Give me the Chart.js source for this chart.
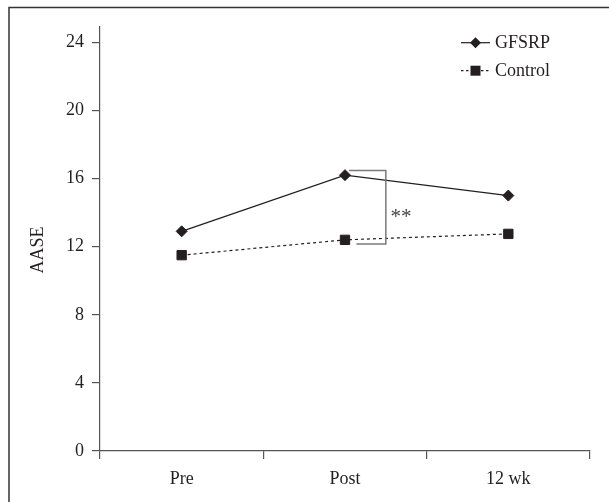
<!DOCTYPE html>
<html><head><meta charset="utf-8">
<script src="https://cdn.jsdelivr.net/npm/chart.js@4"></script>
<style>html,body{margin:0;padding:0;background:#fff}#wrap{position:relative;width:609px;height:502px}</style>
</head><body><div id="wrap"><canvas id="c" width="609" height="502"></canvas></div>
<script>
const categories = ['Pre', 'Post', '12 wk'];
const gfsrp = [12.9, 16.2, 15.0];
const control = [11.5, 12.4, 12.75];
const yTicks = [0, 4, 8, 12, 16, 20, 24];
const yMax = 24.9;
const seriesNames = ['GFSRP', 'Control'];
const yTitle = 'AASE';
// significance bracket at "Post" (category index units / data units)
const bracketX = [1.025, 1.07, 1.25];
const bracketY = [16.47, 12.16];
const sigLabel = '**';
const sigPos = [1.343, 14.0];

const INK = '#231f20';
const AXIS = '#555';
const FONT = '"Liberation Serif", "DejaVu Serif", serif';

const extras = {
  id: 'extras',
  beforeDraw(chart) {
    const ctx = chart.ctx;
    ctx.save();
    ctx.fillStyle = '#fff';
    ctx.fillRect(0, 0, chart.width, chart.height);
    ctx.strokeStyle = '#333';
    ctx.lineWidth = 1.5;
    ctx.beginPath();
    ctx.moveTo(9, 502); ctx.lineTo(9, 7.5); ctx.lineTo(609, 7.5);
    ctx.stroke();
    ctx.restore();
  },
  afterDraw(chart) {
    const ctx = chart.ctx;
    const xs = chart.scales.x, ys = chart.scales.y;
    ctx.save();
    // y title
    ctx.fillStyle = INK;
    ctx.font = '18px ' + FONT;
    ctx.textAlign = 'center';
    ctx.textBaseline = 'middle';
    ctx.translate(38, (ys.top + ys.bottom) / 2 + 11);
    ctx.rotate(-Math.PI / 2);
    ctx.fillText(yTitle, 0, 0);
    ctx.restore();

    // bracket
    ctx.save();
    ctx.strokeStyle = '#7a7a7a';
    ctx.lineWidth = 1.5;
    const xa = xs.getPixelForValue(bracketX[0]);
    const xb = xs.getPixelForValue(bracketX[1]);
    const xc = xs.getPixelForValue(bracketX[2]);
    const yt = ys.getPixelForValue(bracketY[0]);
    const yb = ys.getPixelForValue(bracketY[1]);
    ctx.beginPath();
    ctx.moveTo(xa, yt); ctx.lineTo(xc, yt); ctx.lineTo(xc, yb); ctx.lineTo(xb, yb);
    ctx.stroke();
    ctx.fillStyle = '#444';
    ctx.font = '21px ' + FONT;
    ctx.textAlign = 'center';
    ctx.textBaseline = 'alphabetic';
    ctx.fillText(sigLabel, xs.getPixelForValue(sigPos[0]), ys.getPixelForValue(sigPos[1]) + 10);
    ctx.restore();

    // legend
    ctx.save();
    const rows = [42.7, 70.7];
    ctx.font = '18px ' + FONT;
    ctx.textAlign = 'left';
    ctx.textBaseline = 'middle';
    rows.forEach((ry, i) => {
      ctx.strokeStyle = INK;
      ctx.fillStyle = INK;
      ctx.lineWidth = 1.2;
      ctx.setLineDash(i === 0 ? [] : [2.5, 2.5]);
      ctx.beginPath();
      ctx.moveTo(461, ry); ctx.lineTo(490, ry);
      ctx.stroke();
      ctx.setLineDash([]);
      const mx = 475.5;
      ctx.beginPath();
      if (i === 0) {
        ctx.moveTo(mx, ry - 5.5); ctx.lineTo(mx + 5.5, ry); ctx.lineTo(mx, ry + 5.5); ctx.lineTo(mx - 5.5, ry); ctx.closePath();
      } else {
        ctx.rect(mx - 5, ry - 5, 10, 10);
      }
      ctx.fill();
      ctx.fillText(seriesNames[i], 495, ry + 1);
    });
    ctx.restore();
  }
};

new Chart(document.getElementById('c'), {
  type: 'line',
  data: {
    labels: categories,
    datasets: [
      {
        label: seriesNames[0], data: gfsrp,
        borderColor: INK, backgroundColor: INK, borderWidth: 1.2,
        pointStyle: 'rectRot', pointRadius: 5.5, pointBorderWidth: 1,
        pointBackgroundColor: INK, pointBorderColor: INK, tension: 0
      },
      {
        label: seriesNames[1], data: control,
        borderColor: INK, backgroundColor: INK, borderWidth: 1.2, borderDash: [3, 3],
        pointStyle: 'rect', pointRadius: 6.6, pointBorderWidth: 1,
        pointBackgroundColor: INK, pointBorderColor: INK, tension: 0
      }
    ]
  },
  options: {
    responsive: false,
    devicePixelRatio: 1,
    animation: false,
    layout: { padding: { top: 27, right: 19, left: 0, bottom: 0 } },
    plugins: { legend: { display: false }, tooltip: { enabled: false } },
    scales: {
      x: {
        type: 'category',
        offset: true,
        grid: { offset: true, drawOnChartArea: false, drawTicks: true, tickLength: 8, color: AXIS, lineWidth: 1.2 },
        border: { color: AXIS, width: 1.2 },
        ticks: { color: INK, font: { family: FONT, size: 18 }, padding: 9, maxRotation: 0 },
        afterFit: s => { s.height = 51; }
      },
      y: {
        min: 0, max: yMax,
        afterBuildTicks: s => { s.ticks = yTicks.map(v => ({ value: v })); },
        grid: { drawOnChartArea: false, drawTicks: true, tickLength: 8, color: AXIS, lineWidth: 1.2 },
        border: { color: AXIS, width: 1.2 },
        ticks: { color: INK, font: { family: FONT, size: 18 }, padding: 8 },
        title: { display: false },
        afterFit: s => { s.width = 100; }
      }
    }
  },
  plugins: [extras]
});
</script>
</body></html>
